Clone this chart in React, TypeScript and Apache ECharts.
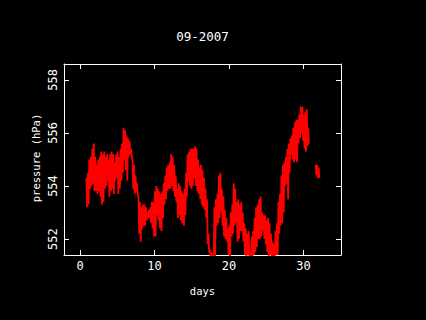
import React, { useEffect, useRef } from "react";
import * as echarts from "echarts";

// sampling of the record (days), every 0.2 day
const startDay = 0.9;
const stepDay = 0.2;

// upper envelope of the pressure trace (hPa)
const upper = [
  554.3, 554.5, 555.0, 555.1, 555.4, 555.6, 555.1, 554.8, 555.0, 555.1,
  555.3, 555.2, 555.3, 555.1, 555.2, 555.0, 555.2, 555.3, 555.2, 554.9,
  555.2, 555.3, 555.1, 555.4, 555.6, 556.2, 556.1, 555.9, 555.8, 555.7,
  555.4, 555.0, 554.8, 554.4, 554.1, 553.6, 553.4, 553.2, 553.3, 553.3,
  553.2, 553.0, 553.1, 553.2, 553.4, 553.4, 553.8, 554.0, 553.9, 553.8,
  553.7, 553.8, 554.1, 554.4, 554.7, 554.8, 554.9, 555.2, 555.1, 554.8,
  554.4, 553.9, 554.1, 554.0, 553.8, 553.7, 553.9, 554.5, 555.2, 555.3,
  555.4, 555.4, 555.4, 555.5, 555.4, 555.0, 554.7, 554.8, 554.6, 554.3,
  553.9, 553.5, 552.2, 551.6, 551.5, 551.2, 553.2, 553.5, 553.7, 554.4,
  554.5, 553.9, 553.6, 553.1, 552.8, 552.4, 552.5, 553.0, 553.3, 554.1,
  553.9, 553.4, 553.5, 553.3, 553.4, 553.0, 552.6, 552.4, 552.2, 552.3,
  551.3, 552.1, 552.3, 552.8, 553.2, 553.3, 553.5, 553.6, 553.0, 552.9,
  552.9, 552.7, 552.8, 552.6, 552.2, 551.9, 551.8, 552.3, 552.6, 553.4,
  553.7, 554.4, 554.8, 554.9, 555.1, 555.4, 555.6, 555.8, 555.9, 556.2,
  556.4, 556.5, 556.5, 556.7, 557.0, 557.0, 556.7, 556.8, 556.9, 556.2,
];

// lower envelope of the pressure trace (hPa)
const lower = [
  553.2, 553.3, 553.9, 554.0, 554.1, 553.8, 553.8, 553.7, 553.8, 553.6,
  553.3, 553.4, 553.9, 554.0, 554.2, 553.6, 553.8, 553.9, 553.7, 554.2,
  554.3, 553.7, 553.9, 554.2, 554.5, 555.0, 554.6, 554.2, 555.1, 555.2,
  555.1, 553.9, 553.7, 553.8, 553.7, 552.2, 551.9, 552.4, 552.5, 552.5,
  552.7, 552.8, 552.8, 552.6, 552.4, 552.1, 552.1, 552.9, 552.7, 552.4,
  552.3, 552.8, 553.3, 553.5, 553.8, 553.9, 553.9, 554.0, 553.8, 553.6,
  553.4, 552.8, 552.9, 552.7, 552.6, 552.5, 552.9, 553.6, 554.2, 554.0,
  553.9, 554.0, 554.3, 554.0, 553.8, 553.7, 553.5, 553.3, 553.2, 553.1,
  552.8, 551.8, 551.5, 551.3, 551.3, 551.1, 551.3, 552.5, 552.6, 552.8,
  553.0, 552.5, 552.1, 552.0, 551.9, 551.4, 551.3, 552.1, 552.2, 552.5,
  552.6, 551.9, 552.0, 552.3, 552.3, 551.9, 551.4, 551.3, 551.4, 551.3,
  551.1, 551.3, 551.4, 551.5, 551.7, 552.0, 552.0, 552.1, 552.3, 552.0,
  551.8, 551.5, 551.3, 551.4, 551.3, 551.3, 551.3, 551.4, 551.4, 552.2,
  552.5, 552.6, 553.0, 554.0, 554.1, 553.5, 554.5, 555.2, 555.0, 554.9,
  555.0, 554.9, 555.6, 555.8, 556.0, 555.7, 555.4, 555.3, 555.5, 555.6,
];

// short isolated piece at the end of the month
const tailDays = [31.7, 31.9, 32.1];
const tailUpper = [554.8, 554.8, 554.7];
const tailLower = [554.4, 554.3, 554.3];

const xTicks = [0, 10, 20, 30];
const yTicks = [552, 554, 556, 558];
const xMin = -2.15;
const xMax = 35.05;
const yMin = 551.4;
const yMax = 558.6;

const titleText = "09-2007";
const xName = "days";
const yName = "pressure (hPa)";

function zigzag(days: number[], hi: number[], lo: number[]) {
  const out: number[][] = [];
  for (let i = 0; i < days.length; i++) {
    out.push([days[i] - stepDay / 4, hi[i]]);
    out.push([days[i] + stepDay / 4, lo[i]]);
  }
  return out;
}

export default function App() {
  const ref = useRef<HTMLDivElement>(null);
  useEffect(() => {
    if (!ref.current) return;
    const chart = echarts.init(ref.current, undefined, { renderer: "svg" });
    const days = upper.map((_, i) => +(startDay + i * stepDay).toFixed(3));
    const mono = "DejaVu Sans Mono";
    const white = "#ffffff";
    const axisCommon = {
      type: "value" as const,
      splitLine: { show: false },
      axisLine: { show: true, onZero: false, lineStyle: { color: white, width: 1 } },
    };
    chart.setOption({
      animation: false,
      backgroundColor: "#000000",
      grid: { left: 64, top: 64, right: 85, bottom: 65, containLabel: false },
      graphic: [
        {
          type: "text",
          x: 202.5,
          y: 36,
          style: { text: titleText, fill: white, font: `12.5px "${mono}"`, textAlign: "center", textVerticalAlign: "middle" },
        },
        {
          type: "text",
          x: 202.5,
          y: 290.5,
          style: { text: xName, fill: white, font: `10.5px "${mono}"`, textAlign: "center", textVerticalAlign: "middle" },
        },
        {
          type: "text",
          x: 36,
          y: 158,
          rotation: Math.PI / 2,
          style: { text: yName, fill: white, font: `10.5px "${mono}"`, textAlign: "center", textVerticalAlign: "middle" },
        },
      ],
      xAxis: [
        {
          ...axisCommon,
          position: "bottom",
          min: xMin,
          max: xMax,
          axisTick: { show: true, inside: true, length: 5, customValues: xTicks, lineStyle: { color: white } },
          axisLabel: { show: true, customValues: xTicks, color: white, fontFamily: mono, fontSize: 12, margin: 5 },
        },
        {
          ...axisCommon,
          position: "top",
          min: xMin,
          max: xMax,
          axisTick: { show: true, inside: true, length: 5, customValues: xTicks, lineStyle: { color: white } },
          axisLabel: { show: false, customValues: xTicks },
        },
      ],
      yAxis: [
        {
          ...axisCommon,
          position: "left",
          min: yMin,
          max: yMax,
          axisTick: { show: true, inside: true, length: 5, customValues: yTicks, lineStyle: { color: white } },
          axisLabel: { show: true, customValues: yTicks, rotate: 90, color: white, fontFamily: mono, fontSize: 12, margin: 5 },
        },
        {
          ...axisCommon,
          position: "right",
          min: yMin,
          max: yMax,
          axisTick: { show: true, inside: true, length: 5, customValues: yTicks, lineStyle: { color: white } },
          axisLabel: { show: false, customValues: yTicks },
        },
      ],
      series: [
        {
          type: "line",
          data: zigzag(days, upper, lower),
          showSymbol: false,
          symbol: "none",
          clip: true,
          lineStyle: { color: "#ff0000", width: 1.8 },
        },
        {
          type: "line",
          data: zigzag(tailDays, tailUpper, tailLower),
          showSymbol: false,
          symbol: "none",
          clip: true,
          lineStyle: { color: "#ff0000", width: 1.8 },
        },
      ],
    });
    return () => chart.dispose();
  }, []);
  return <div ref={ref} style={{ position: "fixed", left: 0, top: 0, width: 426, height: 320 }} />;
}
